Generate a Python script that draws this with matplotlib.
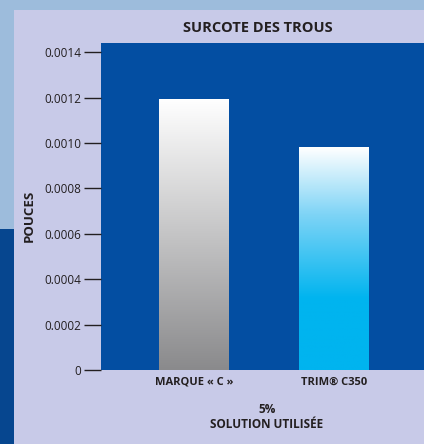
import numpy as np
import matplotlib.pyplot as plt
from matplotlib.patches import Rectangle
from matplotlib.colors import LinearSegmentedColormap

# data
categories = ["MARQUE « C »", "TRIM® C350"]
values = [0.00119, 0.00098]
yticks = [0, 0.0002, 0.0004, 0.0006, 0.0008, 0.0010, 0.0012, 0.0014]
ytick_labels = ["0", "0.0002", "0.0004", "0.0006", "0.0008", "0.0010", "0.0012", "0.0014"]

plt.rcParams['font.family'] = ['Open Sans', 'DejaVu Sans']

W, H = 424, 444
fig = plt.figure(figsize=(W / 100, H / 100), dpi=100)
fig.patch.set_facecolor("#9dbcdc")

# background panels
fig.patches.append(Rectangle((14 / W, 0), 1, 1 - 10 / H, transform=fig.transFigure,
                             facecolor="#c8cae8", edgecolor="none", zorder=0))
fig.patches.append(Rectangle((0, 0), 14 / W, 1 - 229 / H, transform=fig.transFigure,
                             facecolor="#06468f", edgecolor="none", zorder=0))

ax = fig.add_axes([101 / W, 1 - 370 / H, 1 - 101 / W, (370 - 43) / H])
ax.set_zorder(2)
ax.set_facecolor("#034ea2")

x = np.arange(len(categories))
bars = ax.bar(x, values, width=0.5, color="none", zorder=2)

cmaps = [
    LinearSegmentedColormap.from_list("grey", [(0, "#8a8a8c"), (1, "#ffffff")]),
    LinearSegmentedColormap.from_list("cyan", [(0, "#00b4ef"), (0.32, "#00b4ef"),
                                               (0.7, "#7fd4f6"), (1, "#ffffff")]),
]
grad = np.linspace(0, 1, 256).reshape(-1, 1)
for b, cm in zip(bars, cmaps):
    x0, w, h = b.get_x(), b.get_width(), b.get_height()
    ax.imshow(grad, cmap=cm, origin="lower", aspect="auto",
              extent=(x0, x0 + w, 0, h), zorder=3)

ax.set_xlim(-0.665, 1.645)
ax.set_ylim(0, 0.00144)
ax.set_yticks(yticks)
ax.set_yticklabels(ytick_labels, fontsize=8.5, color="#231f20")
ax.tick_params(axis="y", length=12, width=1, color="#231f20", pad=2)
ax.set_xticks(x)
ax.set_xticklabels(categories, fontsize=8, fontweight="bold", color="#231f20")
ax.tick_params(axis="x", length=0, pad=5)
for s in ax.spines.values():
    s.set_visible(False)

fig.text(258 / W, 1 - 28 / H, "SURCOTE DES TROUS", ha="center", va="center",
         fontsize=10.5, fontweight="bold", color="#231f20")
fig.text(29 / W, 1 - 216 / H, "POUCES", ha="center", va="center", rotation=90,
         fontsize=9.5, fontweight="bold", color="#231f20")
fig.text(267 / W, 1 - 409 / H, "5%", ha="center", va="center",
         fontsize=8.5, fontweight="bold", color="#231f20")
fig.text(267 / W, 1 - 424 / H, "SOLUTION UTILISÉE", ha="center", va="center",
         fontsize=8.5, fontweight="bold", color="#231f20")

fig.savefig("out.png", dpi=100, facecolor=fig.get_facecolor())
